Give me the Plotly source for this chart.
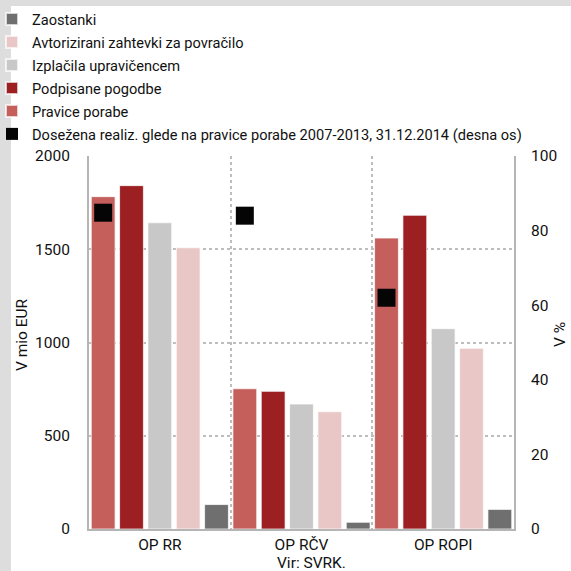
import plotly.graph_objects as go

categories = ["OP RR", "OP RČV", "OP ROPI"]
pravice_porabe = [1782, 752, 1560]
podpisane_pogodbe = [1841, 738, 1682]
izplacila = [1642, 670, 1074]
avtorizirani = [1508, 629, 969]
zaostanki = [131, 36, 105]
dosezena_realiz = [84.8, 84.0, 62.0]

left_ticks = [0, 500, 1000, 1500, 2000]
right_ticks = [0, 20, 40, 60, 80, 100]

AX_FONT = dict(family="Roboto, Open Sans, sans-serif", size=15.5, color="#111")
LEG_FONT = dict(family="Roboto, Open Sans, sans-serif", size=14.6, color="#111")

fig = go.Figure()

bar_specs = [
    ("Pravice porabe", pravice_porabe, "#c45f5b", "a", 5),
    ("Podpisane pogodbe", podpisane_pogodbe, "#9c1f22", "b", 4),
    ("Izplačila upravičencem", izplacila, "#c8c8c8", "c", 3),
    ("Avtorizirani zahtevki za povračilo", avtorizirani, "#eac7c7", "d", 2),
    ("Zaostanki", zaostanki, "#6f6f6f", "e", 1),
]
for name, vals, col, grp, rank in bar_specs:
    fig.add_trace(go.Bar(
        x=categories, y=vals, name=name, offsetgroup=grp, legendrank=rank,
        legendgroup=grp,
        marker=dict(color=col, line=dict(color="rgba(255,255,255,0.7)", width=1)),
        yaxis="y",
    ))

fig.add_trace(go.Scatter(
    x=categories, y=dosezena_realiz, mode="markers", offsetgroup="a",
    name="Dosežena realiz. glede na pravice porabe 2007-2013, 31.12.2014 (desna os)",
    marker=dict(symbol="square", size=18, color="#050505"),
    yaxis="y2", legendrank=6, legendgroup="f",
))

fig.update_layout(
    width=571, height=571,
    margin=dict(l=89, r=57, t=156, b=42, autoexpand=False),
    paper_bgcolor="#dcdddc",
    plot_bgcolor="white",
    barmode="group", bargap=0.0, bargroupgap=0.16,
    scattermode="group",
    showlegend=True,
    legend=dict(
        x=(-8 - 89) / 425, xanchor="left", y=(529 - 3) / 373, yanchor="top",
        font=LEG_FONT, bgcolor="rgba(0,0,0,0)", traceorder="grouped",
        tracegroupgap=1, itemsizing="constant",
    ),
    xaxis=dict(
        type="category", tickson="boundaries", showgrid=True,
        gridcolor="#bdbdbd", griddash="dot", gridwidth=1.5,
        showline=True, linecolor="#b5b5b5", linewidth=2,
        ticks="", tickfont=AX_FONT, range=[-0.5, 2.5],
    ),
    yaxis=dict(
        range=[0, 2000], tickvals=left_ticks, showgrid=True,
        gridcolor="#bdbdbd", griddash="dot", gridwidth=1.5,
        showline=True, linecolor="#b5b5b5", linewidth=2, zeroline=False,
        ticks="", tickfont=AX_FONT, ticklabelstandoff=14,
    ),
    yaxis2=dict(
        overlaying="y", side="right", range=[0, 100], tickvals=right_ticks,
        showgrid=False, showline=True, linecolor="#b5b5b5", linewidth=2,
        zeroline=False, ticks="", tickfont=AX_FONT, ticklabelstandoff=12,
    ),
    shapes=[dict(
        type="rect", xref="paper", yref="paper", layer="below",
        x0=(11 - 89) / 425, x1=1.3, y0=-0.3, y1=(529 - 6) / 373,
        fillcolor="white", line=dict(width=0),
    )],
    annotations=[
        dict(text="V mio EUR", xref="paper", yref="paper", x=(22 - 89) / 425, y=0.52,
             textangle=-90, showarrow=False, font=AX_FONT, xanchor="center", yanchor="middle"),
        dict(text="V %", xref="paper", yref="paper", x=(560 - 89) / 425, y=0.52,
             textangle=-90, showarrow=False, font=AX_FONT, xanchor="center", yanchor="middle"),
        dict(text="Vir: SVRK.", xref="paper", yref="paper", x=(275 - 89) / 425, y=-0.09,
             showarrow=False, font=AX_FONT, xanchor="left", yanchor="middle"),
    ],
)

fig.write_html(
    "out.html",
    config={"displayModeBar": False},
    post_script="document.body.style.margin='0';document.body.style.overflow='hidden';",
)
